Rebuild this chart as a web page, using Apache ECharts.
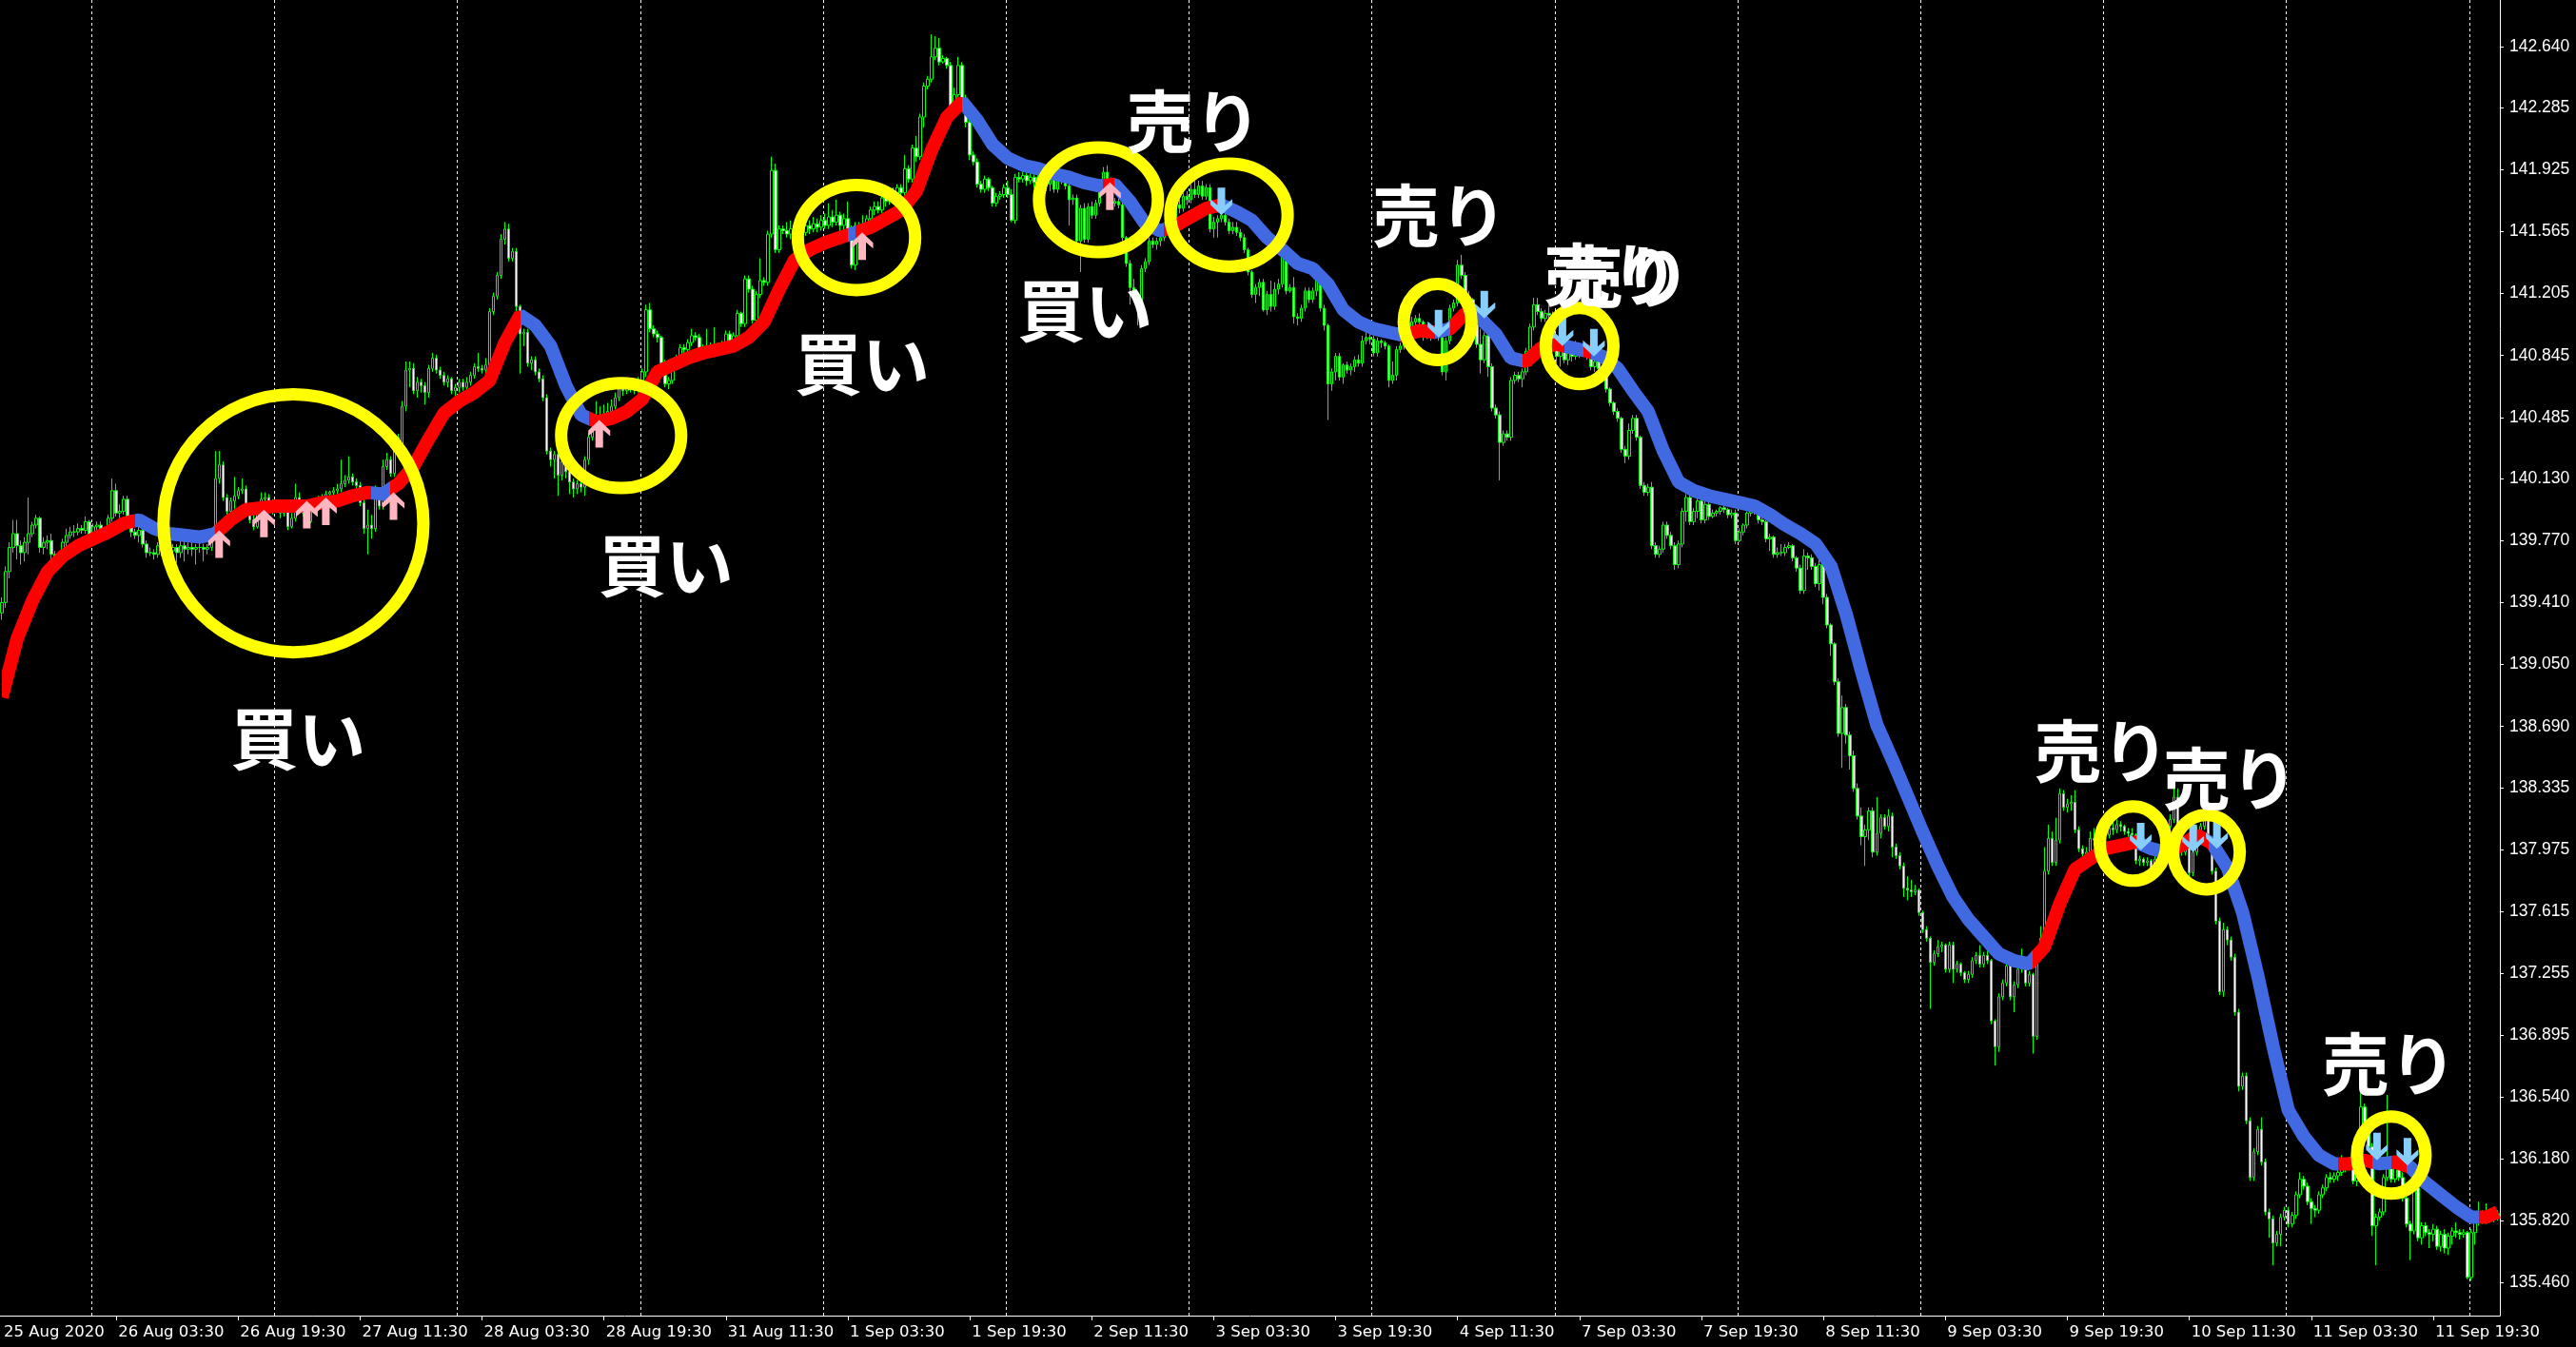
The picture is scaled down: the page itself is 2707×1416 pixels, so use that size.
<!DOCTYPE html>
<html><head><meta charset="utf-8">
<script src="https://cdn.jsdelivr.net/npm/echarts@6/dist/echarts.min.js"></script>
<style>html,body{margin:0;padding:0;background:#000;}#c{width:2707px;height:1416px;}</style>
</head><body><div id="c"></div>
<script>
// ---- DATA ----
// M30 candles: [open, close, low, high]
const candles = [
[139.35,139.41,139.31,139.44],[139.41,139.59,139.38,139.62],[139.59,139.73,139.55,139.76],[139.73,139.81,139.70,139.89],[139.81,139.74,139.66,139.89],[139.74,139.70,139.63,139.77],[139.70,139.76,139.65,139.79],[139.76,139.81,139.69,140.02],
[139.81,139.86,139.79,139.88],[139.86,139.90,139.84,139.92],[139.90,139.73,139.70,139.91],[139.73,139.76,139.69,139.79],[139.76,139.77,139.72,139.80],[139.77,139.69,139.65,139.81],[139.69,139.67,139.62,139.71],[139.67,139.66,139.62,139.69],
[139.66,139.76,139.63,139.78],[139.76,139.80,139.73,139.84],[139.80,139.82,139.78,139.85],[139.82,139.82,139.79,139.86],[139.82,139.84,139.80,139.87],[139.84,139.83,139.81,139.86],[139.83,139.88,139.81,139.91],[139.88,139.78,139.76,139.89],
[139.78,139.85,139.77,139.87],[139.85,139.86,139.83,139.88],[139.86,139.82,139.80,139.88],[139.82,139.82,139.80,139.84],[139.82,139.90,139.80,139.92],[139.90,140.06,139.88,140.13],[140.06,139.93,139.91,140.10],[139.93,139.94,139.90,139.98],
[139.94,140.01,139.92,140.03],[140.01,139.91,139.89,140.03],[139.91,139.82,139.79,139.92],[139.82,139.80,139.78,139.84],[139.80,139.83,139.76,139.85],[139.83,139.75,139.73,139.85],[139.75,139.70,139.67,139.77],[139.70,139.70,139.68,139.73],
[139.70,139.69,139.66,139.72],[139.69,139.74,139.67,139.76],[139.74,139.72,139.68,139.78],[139.72,139.76,139.70,139.80],[139.76,139.71,139.66,139.78],[139.71,139.73,139.68,139.75],[139.73,139.70,139.64,139.75],[139.70,139.74,139.67,139.77],
[139.74,139.72,139.65,139.78],[139.72,139.73,139.69,139.76],[139.73,139.72,139.68,139.77],[139.72,139.73,139.63,139.75],[139.73,139.73,139.70,139.76],[139.73,139.72,139.65,139.75],[139.72,139.73,139.69,139.75],[139.73,139.80,139.71,139.82],
[139.80,140.13,139.78,140.29],[140.13,140.21,140.10,140.29],[140.21,140.02,140.00,140.23],[140.02,139.94,139.92,140.04],[139.94,140.00,139.92,140.02],[140.00,140.03,139.95,140.14],[140.03,140.06,140.01,140.08],[140.06,140.07,140.04,140.13],
[140.07,139.94,139.92,140.09],[139.94,139.89,139.87,139.96],[139.89,139.85,139.83,139.92],[139.85,139.96,139.84,139.99],[139.96,140.01,139.93,140.05],[140.01,140.02,139.99,140.05],[140.02,139.99,139.97,140.04],[139.99,139.95,139.92,140.01],
[139.95,139.96,139.93,139.99],[139.96,139.93,139.90,139.98],[139.93,139.96,139.91,139.99],[139.96,139.85,139.83,139.98],[139.85,139.90,139.84,139.93],[139.90,140.02,139.88,140.10],[140.02,139.98,139.96,140.05],[139.98,139.93,139.91,140.00],
[139.93,139.88,139.86,139.95],[139.88,139.96,139.87,139.98],[139.96,140.00,139.94,140.02],[140.00,139.98,139.96,140.03],[139.98,140.02,139.96,140.04],[140.02,140.04,140.00,140.06],[140.04,140.05,140.02,140.06],[140.05,140.06,140.03,140.08],
[140.06,140.07,140.04,140.10],[140.07,140.10,140.05,140.24],[140.10,140.12,140.08,140.15],[140.12,140.14,140.10,140.26],[140.14,140.11,140.09,140.16],[140.11,140.09,140.06,140.13],[140.09,139.99,139.97,140.11],[139.99,139.84,139.81,140.01],
[139.84,139.86,139.69,139.95],[139.86,139.84,139.78,139.92],[139.84,140.07,139.82,140.09],[140.07,139.97,139.95,140.08],[139.97,140.20,139.95,140.24],[140.20,140.24,140.18,140.28],[140.24,140.16,140.14,140.26],[140.16,140.37,140.14,140.39],
[140.37,140.28,140.26,140.39],[140.28,140.55,140.26,140.58],[140.55,140.76,140.52,140.81],[140.76,140.77,140.66,140.81],[140.77,140.64,140.62,140.80],[140.64,140.69,140.60,140.72],[140.69,140.67,140.63,140.71],[140.67,140.63,140.56,140.69],
[140.63,140.77,140.60,140.79],[140.77,140.83,140.75,140.86],[140.83,140.76,140.74,140.85],[140.76,140.73,140.71,140.78],[140.73,140.69,140.67,140.75],[140.69,140.71,140.66,140.73],[140.71,140.64,140.62,140.72],[140.64,140.66,140.56,140.68],
[140.66,140.69,140.63,140.71],[140.69,140.66,140.64,140.71],[140.66,140.69,140.64,140.72],[140.69,140.73,140.67,140.75],[140.73,140.78,140.71,140.80],[140.78,140.77,140.75,140.86],[140.77,140.76,140.74,140.79],[140.76,140.79,140.74,140.83],
[140.79,141.10,140.77,141.12],[141.10,141.19,141.08,141.21],[141.19,141.31,141.17,141.33],[141.31,141.52,141.29,141.55],[141.52,141.58,141.49,141.62],[141.58,141.41,141.39,141.61],[141.41,141.45,141.39,141.47],[141.45,141.13,141.10,141.47],
[141.13,140.97,140.74,141.14],[140.97,140.98,140.90,141.00],[140.98,140.80,140.78,141.00],[140.80,140.82,140.76,140.84],[140.82,140.75,140.73,140.84],[140.75,140.71,140.69,140.77],[140.71,140.60,140.58,140.73],[140.60,140.29,140.27,140.62],
[140.29,140.24,140.20,140.31],[140.24,140.27,140.13,140.29],[140.27,140.15,140.03,140.28],[140.15,140.23,140.12,140.25],[140.23,140.17,140.13,140.25],[140.17,140.11,140.04,140.19],[140.11,140.07,140.02,140.13],[140.07,140.10,140.04,140.12],
[140.10,140.08,140.05,140.12],[140.08,140.24,140.03,140.26],[140.24,140.37,140.21,140.40],[140.37,140.41,140.35,140.44],[140.41,140.46,140.38,140.58],[140.46,140.45,140.42,140.55],[140.45,140.50,140.43,140.56],[140.50,140.52,140.47,140.57],
[140.52,140.55,140.50,140.59],[140.55,140.60,140.53,140.63],[140.60,140.65,140.58,140.68],[140.65,140.64,140.61,140.70],[140.64,140.66,140.62,140.70],[140.66,140.67,140.63,140.71],[140.67,140.65,140.62,140.70],[140.65,140.70,140.63,140.72],
[140.70,140.75,140.67,140.77],[140.75,141.11,140.72,141.14],[141.11,141.00,140.98,141.15],[141.00,140.97,140.95,141.02],[140.97,140.95,140.92,140.99],[140.95,140.80,140.78,140.96],[140.80,140.68,140.66,140.82],[140.68,140.70,140.65,140.72],
[140.70,140.81,140.68,140.83],[140.81,140.83,140.79,140.85],[140.83,140.89,140.81,140.91],[140.89,140.88,140.86,140.91],[140.88,140.92,140.86,140.94],[140.92,140.96,140.90,141.00],[140.96,140.95,140.93,140.98],[140.95,140.88,140.86,140.97],
[140.88,140.89,140.86,140.91],[140.89,140.90,140.87,141.00],[140.90,140.88,140.86,140.92],[140.88,140.90,140.86,141.01],[140.90,140.89,140.87,140.92],[140.89,140.91,140.87,140.93],[140.91,140.97,140.89,140.99],[140.97,140.93,140.91,140.99],
[140.93,140.96,140.91,140.98],[140.96,141.09,140.94,141.11],[141.09,141.03,141.01,141.10],[141.03,141.29,141.01,141.31],[141.29,141.23,141.21,141.31],[141.23,141.05,141.03,141.25],[141.05,141.20,141.03,141.22],[141.20,141.28,141.18,141.41],
[141.28,141.27,141.25,141.30],[141.27,141.55,141.25,141.57],[141.55,141.92,141.53,142.00],[141.92,141.46,141.44,141.96],[141.46,141.58,141.44,141.60],[141.58,141.57,141.55,141.60],[141.57,141.55,141.53,141.62],[141.55,141.58,141.52,141.63],
[141.58,141.55,141.50,141.61],[141.55,141.59,141.53,141.64],[141.59,141.56,141.52,141.62],[141.56,141.60,141.54,141.66],[141.60,141.58,141.55,141.63],[141.58,141.61,141.56,141.65],[141.61,141.59,141.56,141.64],[141.59,141.63,141.57,141.66],
[141.63,141.60,141.58,141.67],[141.60,141.65,141.58,141.73],[141.65,141.62,141.59,141.69],[141.62,141.66,141.60,141.75],[141.66,141.60,141.51,141.68],[141.60,141.64,141.57,141.67],[141.64,141.58,141.55,141.74],[141.58,141.37,141.35,141.60],
[141.37,141.60,141.34,141.62],[141.60,141.58,141.55,141.62],[141.58,141.61,141.56,141.66],[141.61,141.64,141.59,141.66],[141.64,141.69,141.62,141.71],[141.69,141.71,141.66,141.74],[141.71,141.69,141.67,141.74],[141.69,141.76,141.67,141.78],
[141.76,141.74,141.71,141.79],[141.74,141.80,141.72,141.82],[141.80,141.78,141.75,141.82],[141.78,141.82,141.76,141.84],[141.82,141.79,141.76,141.84],[141.79,141.93,141.77,142.01],[141.93,141.87,141.85,141.95],[141.87,142.05,141.85,142.07],
[142.05,142.00,141.97,142.12],[142.00,142.23,141.98,142.25],[142.23,142.41,142.17,142.43],[142.41,142.45,142.39,142.47],[142.45,142.58,142.43,142.71],[142.58,142.63,142.56,142.70],[142.63,142.55,142.53,142.69],[142.55,142.57,142.54,142.59],
[142.57,142.53,142.51,142.58],[142.53,142.28,142.26,142.55],[142.28,142.36,142.25,142.40],[142.36,142.53,142.33,142.58],[142.53,142.34,142.32,142.55],[142.34,142.20,142.17,142.36],[142.20,142.01,141.98,142.22],[142.01,141.97,141.95,142.03],
[141.97,141.84,141.82,141.99],[141.84,141.81,141.79,141.86],[141.81,141.87,141.79,141.89],[141.87,141.82,141.80,141.88],[141.82,141.73,141.71,141.83],[141.73,141.77,141.71,141.79],[141.77,141.78,141.75,141.80],[141.78,141.82,141.76,141.84],
[141.82,141.78,141.76,141.86],[141.78,141.63,141.62,141.81],[141.63,141.88,141.61,141.90],[141.88,141.87,141.85,141.91],[141.87,141.89,141.85,141.92],[141.89,141.86,141.83,141.91],[141.86,141.88,141.84,141.92],[141.88,141.85,141.82,141.90],
[141.85,141.88,141.83,141.91],[141.88,141.86,141.82,141.90],[141.86,141.84,141.80,141.89],[141.84,141.87,141.80,141.89],[141.87,141.81,141.79,141.88],[141.81,141.86,141.79,141.88],[141.86,141.87,141.84,141.89],[141.87,141.83,141.81,141.88],
[141.83,141.75,141.60,141.87],[141.75,141.76,141.72,141.78],[141.76,141.51,141.49,141.78],[141.51,141.70,141.33,141.72],[141.70,141.52,141.50,141.73],[141.52,141.71,141.50,141.73],[141.71,141.66,141.64,141.74],[141.66,141.73,141.64,141.75],
[141.73,141.84,141.71,141.86],[141.84,141.91,141.82,141.94],[141.91,141.87,141.84,141.95],[141.87,141.73,141.70,141.88],[141.73,141.74,141.71,141.76],[141.74,141.72,141.70,141.76],[141.72,141.53,141.51,141.74],[141.53,141.38,141.36,141.54],
[141.38,141.24,141.14,141.40],[141.24,141.18,141.16,141.29],[141.18,141.16,141.02,141.20],[141.16,141.35,141.14,141.37],[141.35,141.39,141.33,141.41],[141.39,141.51,141.37,141.53],[141.51,141.49,141.47,141.53],[141.49,141.51,141.46,141.53],
[141.51,141.53,141.48,141.55],[141.53,141.60,141.51,141.62],[141.60,141.65,141.58,141.67],[141.65,141.63,141.60,141.70],[141.63,141.72,141.61,141.74],[141.72,141.70,141.67,141.75],[141.70,141.77,141.68,141.79],[141.77,141.75,141.72,141.80],
[141.75,141.81,141.73,141.84],[141.81,141.78,141.76,141.86],[141.78,141.83,141.76,141.86],[141.83,141.77,141.75,141.86],[141.77,141.82,141.75,141.84],[141.82,141.58,141.56,141.84],[141.58,141.62,141.53,141.65],[141.62,141.64,141.53,141.66],
[141.64,141.66,141.62,141.68],[141.66,141.62,141.60,141.68],[141.62,141.57,141.55,141.64],[141.57,141.59,141.55,141.62],[141.59,141.56,141.54,141.62],[141.56,141.53,141.51,141.58],[141.53,141.46,141.44,141.55],[141.46,141.33,141.31,141.47],
[141.33,141.20,141.18,141.34],[141.20,141.24,141.15,141.26],[141.24,141.27,141.19,141.29],[141.27,141.11,141.10,141.29],[141.11,141.20,141.08,141.22],[141.20,141.13,141.10,141.28],[141.13,141.23,141.11,141.27],[141.23,141.26,141.20,141.29],
[141.26,141.42,141.24,141.45],[141.42,141.22,141.20,141.44],[141.22,141.24,141.21,141.26],[141.24,141.07,141.03,141.30],[141.07,141.06,141.02,141.09],[141.06,141.12,141.04,141.14],[141.12,141.22,141.10,141.24],[141.22,141.17,141.15,141.24],
[141.17,141.22,141.15,141.24],[141.22,141.29,141.19,141.36],[141.29,141.12,141.10,141.31],[141.12,141.02,140.99,141.14],[141.02,140.68,140.47,141.03],[140.68,140.75,140.64,140.77],[140.75,140.84,140.70,140.86],[140.84,140.72,140.70,140.86],
[140.72,140.79,140.68,140.80],[140.79,140.76,140.74,140.81],[140.76,140.78,140.73,140.80],[140.78,140.82,140.75,140.84],[140.82,140.80,140.78,140.85],[140.80,140.93,140.78,140.96],[140.93,140.95,140.91,140.98],[140.95,140.94,140.91,140.97],
[140.94,140.86,140.84,140.96],[140.86,140.93,140.84,140.95],[140.93,140.92,140.89,140.94],[140.92,140.90,140.88,140.93],[140.90,140.70,140.66,140.91],[140.70,140.73,140.68,140.81],[140.73,140.88,140.70,140.90],[140.88,140.90,140.86,140.92],
[140.90,140.94,140.88,140.98],[140.94,140.98,140.92,141.01],[140.98,141.04,140.96,141.07],[141.04,141.06,141.02,141.08],[141.06,141.04,141.02,141.09],[141.04,140.95,140.93,141.05],[140.95,140.96,140.94,140.97],[140.96,140.95,140.93,140.97],
[140.95,140.96,140.94,140.98],[140.96,140.95,140.93,140.97],[140.95,140.75,140.73,140.96],[140.75,140.93,140.70,140.95],[140.93,141.12,140.91,141.14],[141.12,141.15,141.10,141.17],[141.15,141.37,141.13,141.40],[141.37,141.31,141.29,141.43],
[141.31,141.18,141.16,141.33],[141.18,141.17,141.15,141.22],[141.17,141.11,141.09,141.18],[141.11,140.91,140.89,141.12],[140.91,140.82,140.74,141.00],[140.82,140.96,140.80,140.98],[140.96,140.78,140.72,140.97],[140.78,140.54,140.52,140.80],
[140.54,140.50,140.48,140.56],[140.50,140.34,140.12,140.52],[140.34,140.39,140.32,140.41],[140.39,140.37,140.35,140.41],[140.37,140.70,140.35,140.72],[140.70,140.73,140.68,140.75],[140.73,140.71,140.69,140.75],[140.71,140.75,140.66,140.77],
[140.75,140.87,140.73,140.89],[140.87,141.01,140.85,141.03],[141.01,141.14,140.99,141.18],[141.14,141.10,141.08,141.18],[141.10,141.06,141.04,141.12],[141.06,141.09,141.04,141.11],[141.09,141.08,141.06,141.14],[141.08,140.90,140.88,141.10],
[140.90,140.84,140.80,140.92],[140.84,140.88,140.78,140.90],[140.88,140.82,140.80,140.91],[140.82,140.86,140.79,140.88],[140.86,140.84,140.81,140.89],[140.84,140.89,140.82,140.93],[140.89,140.86,140.83,140.92],[140.86,140.88,140.84,140.90],
[140.88,140.84,140.82,140.89],[140.84,140.78,140.76,140.86],[140.78,140.81,140.75,140.83],[140.81,140.77,140.74,140.82],[140.77,140.72,140.70,140.78],[140.72,140.65,140.63,140.74],[140.65,140.57,140.55,140.66],[140.57,140.52,140.50,140.58],
[140.52,140.48,140.46,140.54],[140.48,140.30,140.28,140.49],[140.30,140.26,140.22,140.32],[140.26,140.41,140.24,140.45],[140.41,140.48,140.39,140.50],[140.48,140.37,140.35,140.50],[140.37,140.09,140.07,140.38],[140.09,140.05,140.03,140.11],
[140.05,140.08,140.03,140.10],[140.08,139.74,139.72,140.11],[139.74,139.69,139.67,139.76],[139.69,139.72,139.67,139.74],[139.72,139.86,139.70,139.88],[139.86,139.80,139.78,139.88],[139.80,139.74,139.72,139.82],[139.74,139.63,139.60,139.76],
[139.63,139.75,139.61,139.77],[139.75,139.94,139.73,139.96],[139.94,140.02,139.88,140.04],[140.02,139.88,139.86,140.05],[139.88,139.94,139.86,139.96],[139.94,140.00,139.90,140.02],[140.00,139.89,139.87,140.01],[139.89,139.98,139.87,140.00],
[139.98,139.91,139.89,140.00],[139.91,139.93,139.90,139.95],[139.93,139.94,139.91,139.95],[139.94,139.96,139.92,139.97],[139.96,139.95,139.93,139.98],[139.95,139.92,139.90,139.96],[139.92,139.93,139.90,139.95],[139.93,139.77,139.75,139.95],
[139.77,139.82,139.76,139.84],[139.82,139.86,139.80,139.87],[139.86,139.93,139.84,139.94],[139.93,139.94,139.91,139.96],[139.94,139.95,139.92,139.96],[139.95,139.89,139.87,139.96],[139.89,139.88,139.86,139.91],[139.88,139.78,139.76,139.89],
[139.78,139.79,139.71,139.81],[139.79,139.69,139.67,139.80],[139.69,139.70,139.67,139.73],[139.70,139.70,139.68,139.75],[139.70,139.73,139.68,139.75],[139.73,139.74,139.72,139.76],[139.74,139.67,139.65,139.75],[139.67,139.61,139.59,139.68],
[139.61,139.48,139.46,139.63],[139.48,139.68,139.46,139.72],[139.68,139.67,139.60,139.70],[139.67,139.62,139.60,139.69],[139.62,139.52,139.50,139.64],[139.52,139.63,139.48,139.66],[139.63,139.44,139.40,139.65],[139.44,139.28,139.26,139.46],
[139.28,139.17,139.10,139.29],[139.17,138.95,138.93,139.18],[138.95,138.65,138.63,138.97],[138.65,138.80,138.45,138.87],[138.80,138.64,138.59,138.82],[138.64,138.52,138.44,138.66],[138.52,138.33,138.31,138.55],[138.33,138.17,138.15,138.36],
[138.17,138.05,138.00,138.22],[138.05,138.09,137.88,138.12],[138.09,138.20,138.03,138.22],[138.20,137.96,137.93,138.22],[137.96,138.07,137.94,138.28],[138.07,138.16,138.04,138.18],[138.16,138.11,138.09,138.18],[138.11,138.17,138.08,138.21],
[138.17,137.99,137.93,138.19],[137.99,137.94,137.92,138.01],[137.94,137.88,137.86,137.96],[137.88,137.75,137.70,137.90],[137.75,137.74,137.68,137.82],[137.74,137.73,137.70,137.80],[137.73,137.74,137.71,137.77],[137.74,137.61,137.59,137.75],
[137.61,137.51,137.49,137.62],[137.51,137.46,137.44,137.53],[137.46,137.32,137.05,137.47],[137.32,137.37,137.30,137.39],[137.37,137.41,137.35,137.45],[137.41,137.42,137.38,137.44],[137.42,137.28,137.26,137.43],[137.28,137.42,137.26,137.44],
[137.42,137.28,137.20,137.44],[137.28,137.31,137.26,137.33],[137.31,137.26,137.24,137.32],[137.26,137.22,137.20,137.27],[137.22,137.25,137.20,137.27],[137.25,137.33,137.23,137.35],[137.33,137.36,137.31,137.38],[137.36,137.31,137.29,137.42],
[137.31,137.36,137.29,137.38],[137.36,137.33,137.31,137.40],[137.33,136.98,136.96,137.34],[136.98,136.83,136.72,136.99],[136.83,137.12,136.80,137.14],[137.12,137.20,137.10,137.22],[137.20,137.30,137.18,137.32],[137.30,137.12,137.10,137.31],
[137.12,137.19,137.03,137.21],[137.19,137.28,137.17,137.30],[137.28,137.32,137.26,137.40],[137.32,137.20,137.18,137.34],[137.20,137.25,137.18,137.27],[137.25,136.89,136.79,137.26],[136.89,137.36,136.87,137.38],[137.36,137.46,137.34,137.53],
[137.46,137.85,137.44,137.99],[137.85,138.04,137.83,138.12],[138.04,137.90,137.88,138.08],[137.90,138.03,137.88,138.16],[138.03,138.30,138.01,138.33],[138.30,138.22,138.20,138.32],[138.22,138.24,138.19,138.27],[138.24,138.25,138.20,138.29],
[138.25,138.09,138.07,138.32],[138.09,137.98,137.96,138.11],[137.98,137.95,137.93,138.00],[137.95,137.96,137.92,137.99],[137.96,138.04,137.94,138.08],[138.04,138.03,138.00,138.10],[138.03,138.05,138.01,138.09],[138.05,138.08,138.02,138.12],
[138.08,138.06,138.03,138.11],[138.06,138.10,138.04,138.13],[138.10,138.09,138.06,138.14],[138.09,138.12,138.07,138.15],[138.12,138.11,138.08,138.14],[138.11,138.08,138.06,138.12],[138.08,138.07,138.04,138.10],[138.07,138.06,138.03,138.10],
[138.06,137.91,137.89,138.07],[137.91,137.92,137.88,137.94],[137.92,137.90,137.88,137.93],[137.90,137.91,137.88,137.93],[137.91,137.87,137.85,137.92],[137.87,137.92,137.86,137.94],[137.92,137.96,137.89,137.98],[137.96,138.05,137.94,138.07],
[138.05,138.11,138.03,138.14],[138.11,138.15,138.09,138.18],[138.15,138.28,138.13,138.33],[138.28,138.11,138.09,138.33],[138.11,137.96,137.94,138.12],[137.96,138.01,137.94,138.03],[138.01,137.84,137.82,138.02],[137.84,137.96,137.82,137.98],
[137.96,138.09,137.94,138.11],[138.09,138.11,138.07,138.13],[138.11,138.23,138.09,138.28],[138.23,138.02,138.00,138.25],[138.02,137.85,137.83,138.04],[137.85,137.56,137.54,137.87],[137.56,137.15,137.13,137.58],[137.15,137.51,137.12,137.55],
[137.51,137.45,137.42,137.53],[137.45,137.35,137.33,137.47],[137.35,137.03,137.01,137.37],[137.03,136.60,136.57,137.05],[136.60,136.66,136.58,136.68],[136.66,136.40,136.38,136.68],[136.40,136.07,136.05,136.42],[136.07,136.22,136.05,136.24],
[136.22,136.35,136.20,136.37],[136.35,136.16,136.14,136.42],[136.16,135.87,135.85,136.18],[135.87,135.83,135.72,135.89],[135.83,135.69,135.56,135.85],[135.69,135.74,135.67,135.76],[135.74,135.84,135.67,135.86],[135.84,135.88,135.82,135.90],
[135.88,135.80,135.78,135.90],[135.80,135.85,135.78,135.87],[135.85,135.97,135.83,135.99],[135.97,136.06,135.95,136.10],[136.06,136.02,136.00,136.08],[136.02,135.93,135.91,136.04],[135.93,135.89,135.80,135.95],[135.89,135.88,135.84,135.91],
[135.88,135.97,135.86,135.99],[135.97,136.01,135.95,136.03],[136.01,136.07,135.99,136.09],[136.07,136.06,136.04,136.10],[136.06,136.08,136.04,136.10],[136.08,136.10,136.05,136.12],[136.10,136.15,136.08,136.20],[136.15,136.13,136.10,136.18],
[136.13,136.16,136.11,136.19],[136.16,136.05,136.03,136.21],[136.05,136.14,136.02,136.16],[136.14,136.48,136.12,136.56],[136.48,136.34,136.32,136.50],[136.34,136.25,136.23,136.37],[136.25,135.79,135.73,136.27],[135.79,135.84,135.56,135.86],
[135.84,135.87,135.82,135.89],[135.87,136.07,135.85,136.09],[136.07,136.12,136.05,136.55],[136.12,136.06,136.04,136.16],[136.06,136.13,136.04,136.15],[136.13,136.07,136.05,136.14],[136.07,135.95,135.93,136.10],[135.95,135.80,135.78,135.96],
[135.80,135.76,135.59,135.82],[135.76,136.01,135.74,136.03],[136.01,135.72,135.70,136.03],[135.72,135.79,135.68,135.81],[135.79,135.75,135.73,135.81],[135.75,135.74,135.66,135.77],[135.74,135.77,135.70,135.80],[135.77,135.67,135.65,135.79],
[135.67,135.74,135.64,135.76],[135.74,135.66,135.63,135.77],[135.66,135.73,135.62,135.75],[135.73,135.76,135.68,135.78],[135.76,135.75,135.72,135.81],[135.75,135.74,135.71,135.77],[135.74,135.75,135.72,135.77],[135.75,135.49,135.48,135.76],
[135.49,135.75,135.47,135.77],[135.75,135.81,135.68,135.83],[135.81,135.84,135.79,135.93],[135.84,135.82,135.80,135.88],[135.82,135.85,135.80,135.92],[135.85,135.83,135.81,135.89],[135.83,135.86,135.81,135.90],[135.86,135.85,135.82,135.88]
];

// Moving average, read every 4th bar
const maStep = 4;
const maValues = [
138.86,139.20,139.42,139.59,139.68,139.74,139.78,139.82,139.87,139.89,
139.84,139.81,139.80,139.79,139.81,139.89,139.95,139.96,139.97,139.97,
139.97,139.99,140.00,140.03,140.05,140.04,140.10,140.20,140.36,140.51,
140.58,140.63,140.70,140.92,141.08,141.02,140.90,140.67,140.50,140.46,
140.48,140.52,140.59,140.75,140.79,140.83,140.86,140.88,140.90,140.95,
141.04,141.23,141.40,141.46,141.50,141.53,141.56,141.59,141.64,141.69,
141.80,142.04,142.23,142.32,142.21,142.07,141.99,141.95,141.93,141.90,
141.88,141.85,141.83,141.84,141.74,141.61,141.57,141.60,141.65,141.70,
141.72,141.68,141.63,141.53,141.46,141.38,141.35,141.26,141.11,141.04,
141.00,140.98,140.96,140.99,140.98,141.00,141.09,141.06,140.97,140.83,
140.81,140.89,140.91,140.89,140.87,140.84,140.77,140.64,140.52,140.29,
140.11,140.06,140.03,140.01,139.99,139.97,139.92,139.86,139.81,139.75,
139.62,139.34,139.01,138.70,138.50,138.29,138.08,137.88,137.70,137.57,
137.47,137.37,137.33,137.31,137.41,137.66,137.86,137.92,137.98,138.00,
138.02,137.98,137.96,138.00,138.06,138.01,137.87,137.61,137.24,136.83,
136.46,136.31,136.20,136.15,136.15,136.17,136.15,136.16,136.13,136.04,
135.97,135.90,135.84,135.84,135.87
];
// MA colour state: [state, first bar]
const maTrend = [
['up',0],['down',35],['up',56],['down',97],['up',102],['down',136],['up',154],['down',222],['up',224],
['down',252],['up',289],['down',292],['up',305],['down',319],['up',367],['down',376],['up',380],['down',386],
['up',399],['down',410],['up',415],['down',417],['up',533],['down',560],['up',571],['down',579],['up',613],
['down',622],['up',627],['down',631],['up',650]
];

const yTicks = [142.640,142.285,141.925,141.565,141.205,140.845,140.485,140.130,139.770,139.410,139.050,
  138.690,138.335,137.975,137.615,137.255,136.895,136.540,136.180,135.820,135.460];
const yMin = 135.268, yMax = 142.910;

const xLabelBars = [0,30,62,94,126,158,190,222,254,286,318,350,382,414,446,478,510,542,574,606,638];
const xLabelTexts = ['25 Aug 2020','26 Aug 03:30','26 Aug 19:30','27 Aug 11:30','28 Aug 03:30','28 Aug 19:30',
  '31 Aug 11:30','1 Sep 03:30','1 Sep 19:30','2 Sep 11:30','3 Sep 03:30','3 Sep 19:30','4 Sep 11:30',
  '7 Sep 03:30','7 Sep 19:30','8 Sep 11:30','9 Sep 03:30','9 Sep 19:30','10 Sep 11:30','11 Sep 03:30','11 Sep 19:30'];

// signal arrows: [bar, price]
const buyArrows = [[57,139.75],[68.75,139.87],[80,139.92],[85,139.94],[102.75,139.97],[156.75,140.39],[225.75,141.48],[290.75,141.77]];
const sellArrows = [[320,141.74],[377,141.03],[389,141.14],[409.5,140.98],[417.75,140.92],[561.25,138.05],[575,138.04],[581.25,138.06],[623.25,136.25],[631.25,136.22]];

// highlight ellipses: [centre bar, centre price, half-width in bars, half-height in price]
const circles = [
[76.5,139.87,34.1,0.749],[162.5,140.38,15.75,0.305],[224.25,141.53,15.4,0.305],[287.75,141.75,15.6,0.304],
[322,141.66,15.4,0.299],[376.75,141.04,8.9,0.221],[414,140.90,8.9,0.221],[559.25,138.01,8.75,0.216],
[578.5,137.96,8.75,0.216],[627,136.20,9.0,0.224]
];
// notes: [bar, price, text]
const notes = [
[77.75,138.62,'買い'],[174.25,139.63,'買い'],[225.75,140.80,'買い'],[284.25,141.11,'買い'],
[312.75,142.21,'売り'],[377.25,141.66,'売り'],[422.25,141.32,'売り'],[425.5,141.31,'売り'],
[551,138.55,'売り'],[584.75,138.39,'売り'],[626.5,136.73,'売り']
];

// ---- CHART ----
const N = candles.length;
const catData = candles.map((_, i) => String(i));
const maData = maValues.map((v, k) => [Math.min(k * maStep, N - 1), v]);
const RED = '#ff0000', BLUE = '#4169e1';
const pieces = maTrend.map((t, i) => {
  const p = { gte: t[1], color: t[0] === 'up' ? RED : BLUE };
  if (i < maTrend.length - 1) p.lt = maTrend[i + 1][1];
  return p;
});
const labelMap = {};
xLabelBars.forEach((b, i) => { labelMap[b] = xLabelTexts[i]; });
const tickBars = new Set(xLabelBars.filter(b => b > 0));

const upPath = 'path://M11.5,0L23,11L23,17L15.5,10.5L15.5,29L7.5,29L7.5,10.5L0,17L0,11Z';
const downPath = 'path://M11.5,29L23,18L23,12L15.5,18.5L15.5,0L7.5,0L7.5,18.5L0,12L0,18Z';

const chart = echarts.init(document.getElementById('c'), null, { renderer: 'canvas' });
chart.setOption({
  backgroundColor: '#000000',
  animation: false,
  grid: { left: 0, right: 80, top: 0, bottom: 33, outerBoundsMode: 'none', containLabel: false },
  visualMap: { type: 'piecewise', show: false, seriesIndex: 1, dimension: 0, pieces: pieces },
  xAxis: [{
    type: 'category', data: catData, boundaryGap: true,
    axisLine: { show: true, lineStyle: { color: '#ffffff', width: 1 } },
    axisTick: { show: true, alignWithLabel: true, length: 5, interval: (i) => tickBars.has(i), lineStyle: { color: '#ffffff' } },
    axisLabel: {
      show: true, interval: (i) => labelMap[i] !== undefined, formatter: (v, i) => labelMap[i] || '',
      align: 'left', color: '#ffffff', fontFamily: 'DejaVu Sans', fontSize: 16.5, margin: 9, padding: [0, 0, 0, 2]
    },
    splitLine: { show: true, interval: (i) => i % 48 === 24, lineStyle: { color: '#f0f0f0', type: [3, 3], width: 1 } }
  }, {
    type: 'value', min: -0.5, max: N - 0.5, show: false
  }],
  yAxis: {
    type: 'value', position: 'right', min: yMin, max: yMax,
    axisLine: { show: true, onZero: false, lineStyle: { color: '#ffffff', width: 1 } },
    axisTick: { show: true, length: 4, customValues: yTicks, lineStyle: { color: '#ffffff' } },
    axisLabel: { show: true, customValues: yTicks, formatter: (v) => v.toFixed(3), color: '#ffffff',
      fontFamily: 'Liberation Sans', fontSize: 17.5, margin: 10 },
    splitLine: { show: false }
  },
  series: [{
    type: 'candlestick', xAxisIndex: 0, yAxisIndex: 0, data: candles, barWidth: 3, large: false, progressive: 0,
    silent: true, z: 2,
    itemStyle: { color: '#000000', color0: '#ffffff', borderColor: '#00ff00', borderColor0: '#00ff00', borderWidth: 1 }
  }, {
    type: 'line', xAxisIndex: 1, yAxisIndex: 0, data: maData, symbol: 'none', showSymbol: false, silent: true, z: 3,
    lineStyle: { width: 14, cap: 'butt', join: 'bevel' }
  }, {
    type: 'scatter', xAxisIndex: 1, yAxisIndex: 0, data: buyArrows, symbol: upPath, symbolSize: [23, 29], silent: true, z: 4,
    itemStyle: { color: '#ffb6c1', opacity: 1 }
  }, {
    type: 'scatter', xAxisIndex: 1, yAxisIndex: 0, data: sellArrows, symbol: downPath, symbolSize: [23, 29], silent: true, z: 4,
    itemStyle: { color: '#87cefa', opacity: 1 }
  }, {
    type: 'custom', xAxisIndex: 1, yAxisIndex: 0, data: circles, silent: true, z: 5,
    renderItem: (params, api) => {
      const cx = api.value(0), cy = api.value(1), rx = api.value(2), ry = api.value(3);
      const c = api.coord([cx, cy]);
      const e = api.coord([cx + rx, cy + ry]);
      return { type: 'ellipse', shape: { cx: c[0], cy: c[1], rx: Math.abs(e[0] - c[0]), ry: Math.abs(e[1] - c[1]) },
        style: { fill: 'none', stroke: '#ffff00', lineWidth: 13 } };
    }
  }, {
    type: 'scatter', xAxisIndex: 1, yAxisIndex: 0, silent: true, z: 6,
    data: notes.map(n => ({ value: [n[0], n[1]], name: n[2] })),
    symbol: 'rect', symbolSize: 1, itemStyle: { color: 'rgba(0,0,0,0)', opacity: 1 },
    label: { show: true, position: 'inside', formatter: '{b}', color: '#ffffff', opacity: 1, fontSize: 71, fontWeight: 'bold',
      textBorderWidth: 0, textShadowBlur: 0,
      fontFamily: '"Noto Sans CJK JP", "Noto Sans CJK SC", sans-serif' }
  }]
});
</script>
</body></html>
